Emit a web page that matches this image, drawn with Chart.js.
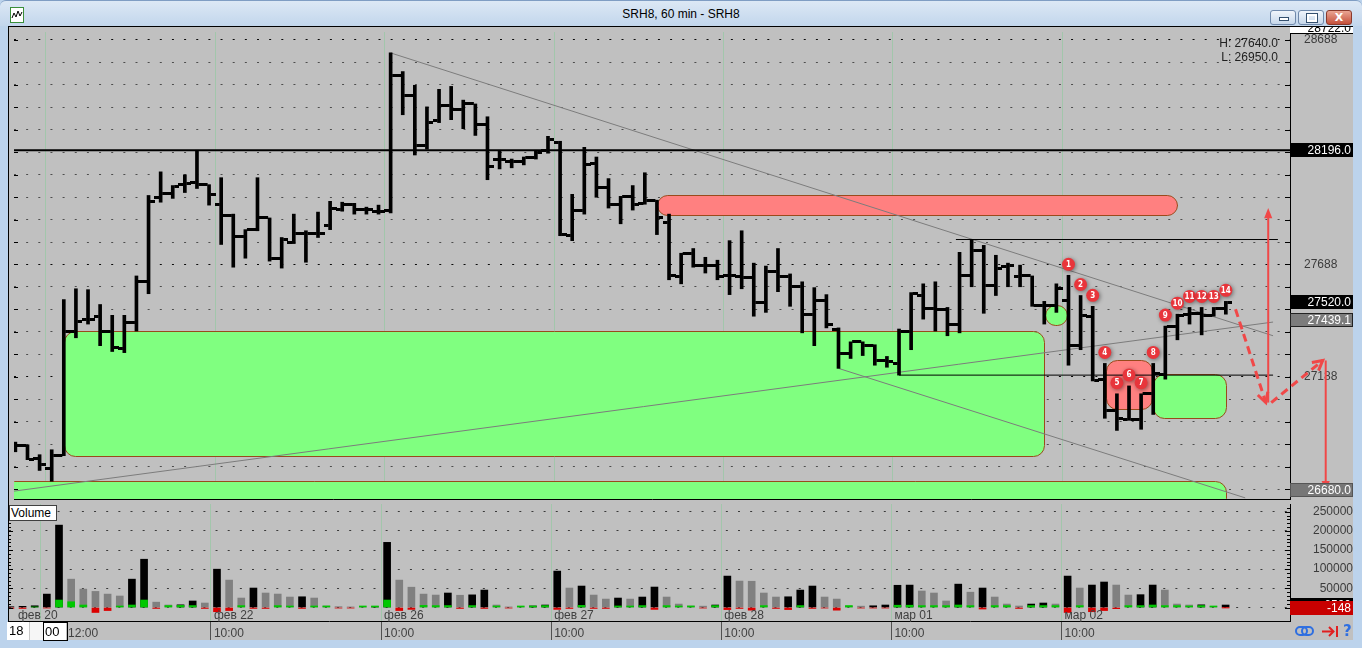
<!DOCTYPE html>
<html>
<head>
<meta charset="utf-8">
<title>SRH8, 60 min - SRH8</title>
<script src="https://cdn.jsdelivr.net/npm/chart.js@4.4.1/dist/chart.umd.min.js"></script>
<style>
html, body { margin: 0; padding: 0; }
body { width: 1362px; height: 648px; position: relative; overflow: hidden; background: #bcd3ec; font-family: "Liberation Sans", Arial, sans-serif; }
#titlebar { position: absolute; left: 0; top: 0; width: 1362px; height: 26px; background: linear-gradient(#dce8f5, #c2d6ec); border-top: 1px solid #7f9dc3; box-sizing: border-box; border-radius: 6px 6px 0 0; }
#caption { position: absolute; left: 0; right: 0; top: 6px; text-align: center; font-size: 12px; color: #000; }
#appicon { position: absolute; left: 10px; top: 6px; }
.wbtn { position: absolute; top: 9px; width: 26px; height: 15px; border: 1px solid #6f89ab; border-radius: 3px; background: linear-gradient(#f0f5fb, #c6d7ea); box-sizing: border-box; }
#btnClose { background: linear-gradient(#eaa593, #c5503a); border-color: #8a3a2c; color: #fff; font: bold 11px "DejaVu Sans", sans-serif; text-align: center; line-height: 13px; }
#panel { position: absolute; left: 8px; top: 26px; width: 1345px; height: 614px; background: #c0c0c0; border-top: 1px solid #000; border-left: 1px solid #000; box-sizing: border-box; }
canvas { position: absolute; }
#priceChart { left: 9px; top: 27px; }
#volChart { left: 9px; top: 504px; }
#volLabel { position: absolute; left: 9px; top: 505px; width: 45px; height: 14px; background: #fff; border: 1px solid #404040; font-size: 12px; line-height: 14px; padding-left: 1px; color: #000; }
#spin { position: absolute; left: 7px; top: 622px; width: 59px; height: 18px; background: #fff; font-size: 13px; color: #000; }
#spin .a { position: absolute; left: 2px; top: 1px; }
#spin .sep { position: absolute; left: 22px; top: 0; width: 14px; height: 18px; background: #f6f6f6; border-left: 1px solid #c8c8c8; }
#spin .b { position: absolute; left: 36px; top: 0; width: 22px; height: 17px; border: 1px solid #000; padding-left: 1px; line-height: 17px; }
#help { position: absolute; left: 1343px; top: 622px; color: #2f6fe0; font: bold 15px "DejaVu Sans", sans-serif; }
</style>
</head>
<body>
<div id="titlebar">
  <svg id="appicon" width="14" height="16" viewBox="0 0 14 16"><rect x="0.5" y="0.5" width="13" height="15" fill="#fff" stroke="#3a8f3a"/><polyline points="2,11 4,6 6,10 8,4 10,9 12,5" fill="none" stroke="#000" stroke-width="1"/></svg>
  <div id="caption">SRH8, 60 min - SRH8</div>
  <div class="wbtn" style="left:1270px"><div style="position:absolute;left:8px;top:6px;width:8px;height:2px;background:#fff;border:1px solid #34506f"></div></div>
  <div class="wbtn" style="left:1298px"><div style="position:absolute;left:8px;top:3px;width:6px;height:4px;border:2px solid #fff;outline:1px solid #34506f"></div></div>
  <div class="wbtn" id="btnClose" style="left:1326px">X</div>
</div>
<div id="panel"></div>
<canvas id="priceChart" width="1344" height="477"></canvas>
<canvas id="volChart" width="1344" height="136"></canvas>
<div id="volLabel">Volume</div>
<div id="spin"><span class="a">18</span><div class="sep"></div><div class="b">00</div></div>
<svg style="position:absolute;left:1294px;top:624px" width="22" height="14"><rect x="2" y="3" width="11" height="8" rx="4" fill="none" stroke="#2f6fe0" stroke-width="2"/><rect x="8" y="3" width="11" height="8" rx="4" fill="none" stroke="#2f6fe0" stroke-width="2"/></svg>
<svg style="position:absolute;left:1321px;top:625px" width="20" height="13"><line x1="1" y1="6.5" x2="12" y2="6.5" stroke="#e02020" stroke-width="2"/><polyline points="8,2 12.5,6.5 8,11" fill="none" stroke="#e02020" stroke-width="2"/><line x1="16" y1="1" x2="16" y2="12" stroke="#e02020" stroke-width="2"/></svg>
<div id="help">?</div>

<script>
// ---- categories: hourly bars ----
const prevDayHours = ['21:00', '22:00', '23:00'];
const sessionHours = ['10:00', '11:00', '12:00', '13:00', '14:00', '15:00', '16:00',
                      '17:00', '18:00', '19:00', '20:00', '21:00', '22:00', '23:00'];
const days = ['фев 20', 'фев 22', 'фев 26', 'фев 27', 'фев 28', 'мар 01', 'мар 02'];

const categories = prevDayHours.map(h => ({ day: 'фев 19', hour: h }));
days.forEach(d => sessionHours.forEach(h => categories.push({ day: d, hour: h })));

// ---- OHLC ----
const open = [
  26877, 26881, 26824, 26781, 26838, 27392, 27445, 27458, 27392, 27314,
  27432, 27611, 27987, 28004, 28043, 28052, 28043, 27956, 27904, 27812,
  27843, 27895, 27716, 27786, 27825, 27825, 27860, 27934, 27956, 27934,
  27925, 27930, 28528, 28441, 28218, 28327, 28393, 28376, 28402, 28310,
  28157, 28148, 28148, 28166, 28196, 28231, 27816, 27930, 28135, 28030,
  27956, 27991, 27960, 27974, 27873, 27633, 27738, 27685, 27685, 27637,
  27633, 27628, 27519, 27659, 27633, 27589, 27467, 27528, 27401, 27292,
  27344, 27327, 27261, 27248, 27392, 27550, 27493, 27489, 27419, 27637,
  27751, 27593, 27681, 27633, 27637, 27506, 27506, 27528, 27327, 27458,
  27178, 27039, 26999, 26999, 27113, 27200, 27414, 27467, 27471, 27462,
  27493
];
const high = [
  26898, 26886, 26842, 26864, 27532, 27580, 27576, 27510, 27462, 27462,
  27637, 27995, 28100, 28039, 28087, 28196, 28043, 28074, 27912, 27843,
  28074, 27895, 27808, 27912, 27838, 27921, 27969, 27965, 27960, 27943,
  27952, 28629, 28546, 28485, 28389, 28467, 28480, 28419, 28402, 28345,
  28196, 28157, 28166, 28196, 28258, 28236, 28000, 28209, 28166, 28070,
  27991, 28039, 28096, 27974, 27912, 27738, 27759, 27720, 27707, 27794,
  27838, 27694, 27681, 27759, 27646, 27611, 27585, 27554, 27406, 27344,
  27344, 27331, 27279, 27401, 27563, 27602, 27611, 27497, 27742, 27799,
  27773, 27729, 27694, 27685, 27637, 27524, 27602, 27640, 27550, 27502,
  27248, 27113, 27148, 27113, 27248, 27414, 27467, 27497, 27497, 27497,
  27524
];
const low = [
  26855, 26820, 26772, 26724, 26838, 27362, 27423, 27327, 27301, 27296,
  27392, 27558, 27965, 27982, 28008, 28026, 27952, 27777, 27676, 27716,
  27838, 27703, 27672, 27781, 27698, 27808, 27843, 27925, 27912, 27912,
  27912, 27917, 28354, 28175, 28201, 28319, 28332, 28292, 28262, 28065,
  28113, 28118, 28131, 28157, 28183, 27816, 27794, 27912, 27987, 27939,
  27869, 27930, 27956, 27821, 27620, 27602, 27676, 27650, 27620, 27554,
  27580, 27458, 27475, 27567, 27502, 27384, 27327, 27406, 27226, 27270,
  27283, 27240, 27231, 27196, 27309, 27445, 27392, 27371, 27384, 27589,
  27471, 27550, 27589, 27589, 27502, 27423, 27475, 27240, 27309, 27170,
  27004, 26950, 26995, 26955, 27021, 27178, 27353, 27423, 27375, 27458,
  27467
];
const close = [
  26881, 26820, 26798, 26838, 27392, 27436, 27445, 27392, 27318, 27432,
  27611, 27969, 28004, 28035, 28048, 28043, 28000, 27908, 27812, 27843,
  27899, 27716, 27799, 27825, 27825, 27825, 27939, 27956, 27934, 27934,
  27925, 28528, 28441, 28218, 28319, 28393, 28376, 28402, 28310, 28122,
  28153, 28148, 28166, 28188, 28244, 27821, 27930, 28131, 28030, 27956,
  27991, 27956, 27974, 27899, 27637, 27738, 27685, 27685, 27633, 27637,
  27628, 27519, 27659, 27633, 27589, 27467, 27528, 27419, 27292, 27344,
  27327, 27261, 27257, 27392, 27558, 27493, 27489, 27419, 27637, 27751,
  27593, 27672, 27685, 27637, 27506, 27506, 27580, 27327, 27462, 27170,
  27039, 27004, 26999, 27113, 27205, 27414, 27462, 27471, 27462, 27493,
  27520
];

// ---- volume panel ----
const volume = [
  2000, 3000, 4500, 35000, 215000, 74000, 48000, 42000, 35000, 30000,
  74000, 126000, 14000, 6500, 7000, 17000, 11700, 100000, 71500, 24700,
  50800, 37800, 35100, 27300, 28000, 24700, 3900, 2200, 1500, 1200,
  2000, 170000, 71500, 53000, 35000, 32500, 37800, 32000, 33000, 45500,
  6500, 1500, 1300, 4000, 6500, 95000, 50800, 56000, 32500, 22000,
  24700, 22000, 27300, 53400, 27300, 9000, 3900, 3500, 6500, 82000,
  69000, 68500, 37800, 27300, 28000, 45500, 56000, 27300, 22000, 3900,
  3500, 4500, 6500, 58000, 58500, 43000, 37800, 17000, 61000, 40000,
  50800, 27300, 9000, 3900, 9000, 11700, 9000, 82000, 50800, 58600,
  66500, 58600, 32500, 33500, 58600, 45500, 9000, 6500, 7000, 2200,
  6500
];
const delta = [
  -2500, -2500, 1500, -1500, 19500, 15000, 6500, -13000, -8000, 4000,
  6500, 19500, -2500, 5000, 5500, 5000, -2500, -11000, -8000, 5000,
  -2500, -2500, 5000, 4000, -2500, 4000, 4000, -1500, -1500, 4000,
  4000, 19500, -8000, -5000, 5500, 5000, 5000, -2500, 5000, -2500,
  4000, -1500, 4000, 4000, 5000, -5000, -2500, 5500, -2500, -2500,
  4000, 4000, 5000, -5000, 5000, 4000, 4000, -1500, 5000, -5500,
  -2500, -7000, 5000, -2500, -5500, 5000, -2500, -1500, -7000, 5000,
  -1500, -1500, -1500, 6000, 6000, 5000, 5000, 5000, 6500, 5000,
  -4000, 5000, 5000, -2500, 5000, 5000, 5000, -13000, 5000, -11000,
  -8000, -3000, 5000, 5000, 6500, 5000, 5000, 4000, 5000, 4000,
  -148
];

// ---- axes ----
const priceTickLabels = [27188, 27688, 28688];
const priceGrid = { from: 26688, to: 28688, step: 100 };
const volumeTickLabels = [50000, 100000, 150000, 200000, 250000];
const axisTimeBars = [5, 17, 31, 45, 59, 73, 87];

// ---- drawings on the price panel ----
const resistance = 28196;
const trendReadout = 27439.1;
const supportLevel = 26680;
const levelLines = [
  { from: -0.2, to: 105.4, price: 28196 },
  { from: 77.7, to: 104.3, price: 27799 },
  { from: 73, to: 103.9, price: 27196 }
];
const trendLines = [
  [{ x: 31, y: 28629 }, { x: 103.9, y: 27371 }],
  [{ x: -0.115, y: 26680 }, { x: 103.9, y: 27432 }],
  [{ x: 68, y: 27226 }, { x: 101.6, y: 26650 }]
];
const buyZones = [
  { from: 4, to: 85, top: 27392, bottom: 26838 },
  { from: -1, to: 100, top: 26724, bottom: 26600 },
  { from: 85.05, to: 86.9, top: 27510, bottom: 27419 },
  { from: 94, to: 100, top: 27200, bottom: 27004 }
];
const sellZones = [
  { from: 53, to: 96, top: 27995, bottom: 27904 },
  { from: 90.1, to: 93.9, top: 27261, bottom: 27043 }
];
const markedBars = [87, 88, 89, 90, 91, 92, 93, 94, 95, 96, 97, 98, 99, 100];
const arrowPaths = [
  { from: { x: 100.8, y: 27489 }, to: { x: 103.3, y: 27074 }, dashed: true },
  { from: { x: 103.75, y: 27074 }, to: { x: 108.0, y: 27261 }, dashed: true },
  { from: { x: 103.5, y: 27074 }, to: { x: 103.5, y: 27939 }, dashed: false },
  { from: { x: 108.25, y: 27261 }, to: { x: 108.25, y: 26680 }, dashed: false }
];

// visible index range of the x axis
const X_MIN = -0.115, X_MAX = 105.3;
const FONT = '"Liberation Sans", Arial, sans-serif';

const separators = [];
categories.forEach((c, i) => { if (c.hour === '10:00') separators.push(i - 0.5); });
const sepSet = new Set(separators);
const volXTicks = Array.from(new Set(separators.concat(axisTimeBars.map(i => i - 0.5)))).sort((a, b) => a - b);

const lastDay = days[days.length - 1];
const dayIdx = categories.map((c, i) => c.day === lastDay ? i : -1).filter(i => i >= 0);
const dayHigh = Math.max(...dayIdx.map(i => high[i]));
const dayLow = Math.min(...dayIdx.map(i => low[i]));

// open / close tick images for the OHLC bars
function tickMark(side) {
  const c = document.createElement('canvas');
  c.width = 13; c.height = 3;
  const g = c.getContext('2d');
  g.fillStyle = '#000';
  if (side === 'open') g.fillRect(0, 0, 5, 3); else g.fillRect(8, 0, 5, 3);
  return c;
}

function roundRect(ctx, x, y, w, h, r) {
  ctx.beginPath();
  ctx.moveTo(x + r, y);
  ctx.lineTo(x + w - r, y);
  ctx.arcTo(x + w, y, x + w, y + r, r);
  ctx.lineTo(x + w, y + h - r);
  ctx.arcTo(x + w, y + h, x + w - r, y + h, r);
  ctx.lineTo(x + r, y + h);
  ctx.arcTo(x, y + h, x, y + h - r, r);
  ctx.lineTo(x, y + r);
  ctx.arcTo(x, y, x + r, y, r);
  ctx.closePath();
}

function valueBox(ctx, left, right, y, text, bg, fg, border) {
  const top = Math.round(y) - 7;
  ctx.fillStyle = bg;
  ctx.fillRect(left, top, right - left, 14);
  if (border) {
    ctx.strokeStyle = border; ctx.lineWidth = 1;
    ctx.strokeRect(left + 0.5, top + 0.5, right - left - 1, 13);
  }
  ctx.fillStyle = fg;
  ctx.font = '12px ' + FONT;
  ctx.textAlign = 'right';
  ctx.textBaseline = 'middle';
  ctx.fillText(text, right - 2, top + 7.5);
}

function drawArrow(ctx, x1, y1, x2, y2, dashed) {
  const col = '#f04848';
  const ang = Math.atan2(y2 - y1, x2 - x1);
  ctx.save();
  ctx.strokeStyle = col; ctx.fillStyle = col;
  ctx.lineWidth = dashed ? 3 : 2;
  ctx.setLineDash(dashed ? [8, 5] : []);
  ctx.beginPath();
  ctx.moveTo(x1, y1);
  ctx.lineTo(x2 - (dashed ? 0 : 6 * Math.cos(ang)), y2 - (dashed ? 0 : 6 * Math.sin(ang)));
  ctx.stroke();
  ctx.setLineDash([]);
  const L = 11, s = dashed ? 0.5 : 0.38;
  ctx.beginPath();
  ctx.moveTo(x2 - L * Math.cos(ang - s), y2 - L * Math.sin(ang - s));
  ctx.lineTo(x2, y2);
  ctx.lineTo(x2 - L * Math.cos(ang + s), y2 - L * Math.sin(ang + s));
  if (dashed) { ctx.stroke(); } else { ctx.closePath(); ctx.fill(); }
  ctx.restore();
}

// small tick marks along both edges of a panel
function edgeTicks(ctx, a, y, values, lenOf) {
  ctx.save();
  ctx.strokeStyle = '#000'; ctx.lineWidth = 1;
  values.forEach(v => {
    const py = Math.round(y.getPixelForValue(v)) + 0.5;
    const len = lenOf(v);
    ctx.beginPath();
    ctx.moveTo(a.right - len, py); ctx.lineTo(a.right, py);
    ctx.moveTo(a.left, py); ctx.lineTo(a.left + len - 1, py);
    ctx.stroke();
  });
  ctx.restore();
}

const priceOverlay = {
  id: 'priceOverlay',
  beforeDatasetsDraw(chart) {
    const { ctx, chartArea: a, scales: { x, y } } = chart;
    ctx.save();
    ctx.beginPath();
    ctx.rect(a.left, a.top, a.right - a.left, a.bottom - a.top);
    ctx.clip();
    const draw = (z, fill) => {
      const x1 = x.getPixelForValue(z.from), x2 = x.getPixelForValue(z.to);
      const y1 = y.getPixelForValue(z.top), y2 = y.getPixelForValue(z.bottom);
      const r = Math.min(11, (y2 - y1) / 2, (x2 - x1) / 2);
      roundRect(ctx, Math.round(x1) + 0.5, Math.round(y1) + 0.5, Math.round(x2 - x1), Math.round(y2 - y1), r);
      ctx.fillStyle = fill;
      ctx.fill();
      ctx.strokeStyle = '#9a4a1c';
      ctx.lineWidth = 1;
      ctx.stroke();
    };
    buyZones.forEach(z => draw(z, '#80ff80'));
    sellZones.forEach(z => draw(z, '#ff8080'));
    ctx.restore();
  },
  afterDatasetsDraw(chart) {
    const { ctx, scales: { x, y } } = chart;
    markedBars.forEach((bi, k) => {
      const cx = x.getPixelForValue(bi);
      const cy = y.getPixelForValue(high[bi]) - 11;
      ctx.save();
      ctx.shadowColor = 'rgba(0,0,0,0.45)';
      ctx.shadowBlur = 4; ctx.shadowOffsetX = 1; ctx.shadowOffsetY = 1;
      ctx.beginPath();
      ctx.arc(cx, cy, 6.5, 0, Math.PI * 2);
      ctx.fillStyle = '#e8353b';
      ctx.fill();
      ctx.restore();
      ctx.fillStyle = '#fff';
      ctx.font = 'bold 8px "DejaVu Sans Condensed", "DejaVu Sans", sans-serif';
      ctx.textAlign = 'center';
      ctx.textBaseline = 'middle';
      ctx.fillText(String(k + 1), cx, cy + 0.5);
    });
  },
  afterDraw(chart) {
    const { ctx, chartArea: a, scales: { x, y } } = chart;
    const right = chart.width;
    edgeTicks(ctx, a, y, y.ticks.map(t => t.value), () => 5);

    // H / L readout
    ctx.fillStyle = '#202020';
    ctx.font = '12px ' + FONT;
    ctx.textAlign = 'right';
    ctx.textBaseline = 'middle';
    ctx.fillText('H: ' + dayHigh.toFixed(1), a.right - 12, 16.5);
    ctx.fillText('L: ' + dayLow.toFixed(1), a.right - 12, 30.5);

    // arrows
    arrowPaths.forEach(p => drawArrow(ctx,
      x.getPixelForValue(p.from.x), y.getPixelForValue(p.from.y),
      x.getPixelForValue(p.to.x), y.getPixelForValue(p.to.y), p.dashed));

    // value boxes on the axis
    const last = close[close.length - 1];
    valueBox(ctx, a.right, right, y.getPixelForValue(resistance), resistance.toFixed(1), '#000', '#fff');
    valueBox(ctx, a.right, right, y.getPixelForValue(last), last.toFixed(1), '#000', '#fff');
    valueBox(ctx, a.right, right, y.getPixelForValue(trendReadout), trendReadout.toFixed(1), '#7c7c7c', '#fff', '#222');
    valueBox(ctx, a.right, right, y.getPixelForValue(supportLevel) - 1, supportLevel.toFixed(1), '#777', '#fff', '#555');

    // top value box (cut by the frame)
    ctx.fillStyle = '#fff';
    ctx.fillRect(a.right, 0, right - a.right, 6);
    ctx.strokeStyle = '#000';
    ctx.beginPath(); ctx.moveTo(a.right, 6.5); ctx.lineTo(right, 6.5); ctx.stroke();
    ctx.fillStyle = '#000';
    ctx.textBaseline = 'alphabetic';
    ctx.fillText(y.max.toFixed(1), right - 2, 5);
  }
};

const priceChart = new Chart(document.getElementById('priceChart'), {
  type: 'bar',
  data: {
    datasets: [
      { type: 'line', data: open.map((v, i) => ({ x: i, y: v })), showLine: false,
        pointStyle: tickMark('open'), pointRadius: 3 },
      { type: 'line', data: close.map((v, i) => ({ x: i, y: v })), showLine: false,
        pointStyle: tickMark('close'), pointRadius: 3 },
      { type: 'bar', data: high.map((h, i) => ({ x: i, y: [low[i], h] })),
        backgroundColor: '#000', barThickness: 3, grouped: false },
      ...levelLines.map(l => ({
        type: 'line', data: [{ x: l.from, y: l.price }, { x: l.to, y: l.price }],
        borderColor: '#000', borderWidth: l.price === resistance ? 2 : 1, pointRadius: 0
      })),
      ...trendLines.map(t => ({
        type: 'line', data: t, borderColor: '#7c7c7c', borderWidth: 1, pointRadius: 0
      }))
    ]
  },
  options: {
    responsive: false,
    animation: false,
    devicePixelRatio: 1,
    events: [],
    layout: { padding: { bottom: 1 } },
    plugins: { legend: { display: false }, tooltip: { enabled: false } },
    scales: {
      x: {
        type: 'linear', min: X_MIN, max: X_MAX, offset: false,
        afterBuildTicks: s => { s.ticks = separators.map(v => ({ value: v })); },
        afterFit: s => { s.height = 0; s.paddingLeft = 0; s.paddingRight = 0; },
        ticks: { display: false },
        grid: { color: '#a2c6ab', drawTicks: false, offset: false },
        border: { display: true, color: '#000' }
      },
      y: {
        type: 'linear', position: 'right', min: 26645, max: 28722,
        afterBuildTicks: s => {
          const t = [];
          for (let v = priceGrid.from; v <= priceGrid.to; v += priceGrid.step) t.push({ value: v });
          s.ticks = t;
        },
        afterFit: s => { s.width = 63; s.paddingTop = 0; s.paddingBottom = 0; },
        ticks: {
          autoSkip: false, padding: 14, crossAlign: 'near', color: '#3c3c3c',
          font: { family: FONT, size: 12 },
          callback: v => priceTickLabels.includes(v) ? String(v) : ''
        },
        grid: {
          drawTicks: false,
          color: c => (c.tick && priceTickLabels.includes(c.tick.value)) ? 'rgba(0,0,0,0.95)' : 'rgba(0,0,0,0.6)'
        },
        border: { display: true, color: '#000', dash: [2, 10.15] }
      }
    }
  },
  plugins: [priceOverlay]
});

const volumeOverlay = {
  id: 'volumeOverlay',
  afterDraw(chart) {
    const { ctx, chartArea: a, scales: { x, y } } = chart;
    const right = chart.width;
    // axis ticks, minor every 10000
    const marks = [];
    for (let v = 0; v <= 260000; v += 10000) marks.push(v);
    edgeTicks(ctx, a, y, marks, v => v % 50000 === 0 ? 5 : 3);

    // day names
    ctx.fillStyle = '#404040';
    ctx.font = '12px ' + FONT;
    ctx.textAlign = 'left';
    ctx.textBaseline = 'middle';
    separators.forEach((s, j) => {
      const px = j === 0 ? a.left + 9 : x.getPixelForValue(s) + 3;
      ctx.fillText(categories[s + 0.5].day, px, a.bottom - 5.5);
    });

    // last value boxes
    valueBox(ctx, a.right, right, y.getPixelForValue(volume[volume.length - 1]), String(volume[volume.length - 1]), '#000', '#fff');
    valueBox(ctx, a.right, right, y.getPixelForValue(delta[delta.length - 1]), String(delta[delta.length - 1]), '#c80000', '#fff');
  }
};

const volChart = new Chart(document.getElementById('volChart'), {
  type: 'bar',
  data: {
    datasets: [
      { data: delta.map((v, i) => ({ x: i, y: v })),
        backgroundColor: delta.map(v => v >= 0 ? '#00c800' : '#dc0000'),
        barThickness: 7, grouped: false },
      { data: volume.map((v, i) => ({ x: i, y: v })),
        backgroundColor: volume.map((v, i) => (i === 0 || v > volume[i - 1]) ? '#000' : '#808080'),
        barThickness: 7, grouped: false }
    ]
  },
  options: {
    responsive: false,
    animation: false,
    devicePixelRatio: 1,
    events: [],
    plugins: { legend: { display: false }, tooltip: { enabled: false } },
    scales: {
      x: {
        type: 'linear', min: X_MIN, max: X_MAX, offset: false,
        afterBuildTicks: s => { s.ticks = volXTicks.map(v => ({ value: v })); },
        afterFit: s => { s.height = 19; s.paddingLeft = 0; s.paddingRight = 0; },
        ticks: {
          autoSkip: false, maxRotation: 0, minRotation: 0, align: 'start',
          labelOffset: 3, padding: -14, color: '#404040',
          font: { family: FONT, size: 12 },
          callback: v => axisTimeBars.includes(v + 0.5) ? categories[v + 0.5].hour : ''
        },
        grid: {
          offset: false, drawTicks: true, tickLength: 19,
          color: c => (c.tick && sepSet.has(c.tick.value)) ? '#a2c6ab' : 'rgba(0,0,0,0)',
          tickColor: c => (c.tick && c.tick.value === separators[0]) ? 'rgba(0,0,0,0)' : '#505050'
        },
        border: { display: true, color: '#000' }
      },
      y: {
        type: 'linear', position: 'right', min: -35230, max: 270100,
        afterBuildTicks: s => { s.ticks = [0].concat(volumeTickLabels).map(v => ({ value: v })); },
        afterFit: s => { s.width = 63; s.paddingTop = 0; s.paddingBottom = 0; },
        ticks: {
          autoSkip: false, padding: 21, crossAlign: 'far', color: '#3c3c3c',
          font: { family: FONT, size: 12 },
          callback: v => volumeTickLabels.includes(v) ? String(v) : ''
        },
        grid: { drawTicks: false, color: 'rgba(0,0,0,0.7)' },
        border: { display: true, color: '#000', dash: [2, 10.15] }
      }
    }
  },
  plugins: [volumeOverlay]
});
</script>
</body>
</html>
